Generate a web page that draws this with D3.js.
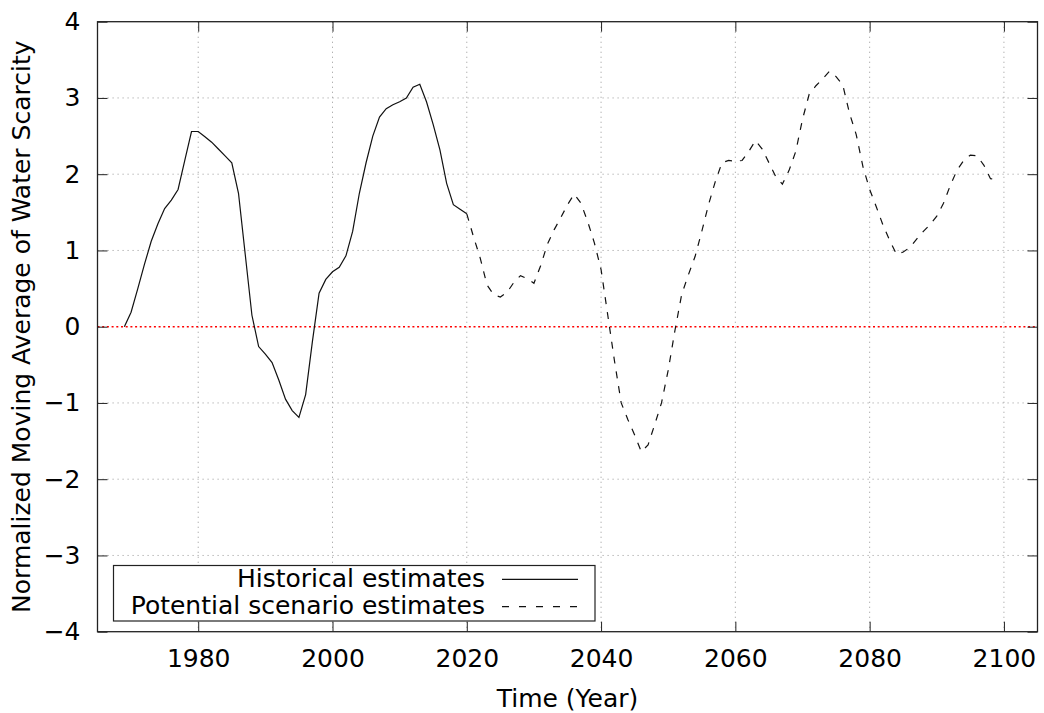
<!DOCTYPE html>
<html>
<head>
<meta charset="utf-8">
<script src="https://cdn.jsdelivr.net/npm/d3@7"></script>
<style>
  body { margin: 0; background: #fff; }
  svg { font-family: "DejaVu Sans", sans-serif; }
</style>
</head>
<body>
<svg width="1044" height="713"></svg>
<script>
// Historical moving average, one value per year from 1969 to 2020
const histStart = 1969;
const histValues = [
    0.00, 0.19, 0.50, 0.82, 1.12, 1.35, 1.55, 1.66, 1.80, 2.18,
    2.56, 2.56, 2.49, 2.42, 2.33, 2.24, 2.15, 1.75, 0.95, 0.15,
    -0.26, -0.36, -0.47, -0.70, -0.95, -1.10, -1.19, -0.89, -0.20, 0.44,
    0.62, 0.72, 0.78, 0.93, 1.25, 1.75, 2.15, 2.50, 2.75, 2.86,
    2.91, 2.95, 3.00, 3.14, 3.18, 2.95, 2.65, 2.32, 1.88, 1.60,
    1.54, 1.48
];

// Scenario estimates, one value per year from 2020 to 2099
const scenStart = 2020;
const scenValues = [
    1.48, 1.18, 0.90, 0.55, 0.42, 0.39, 0.45, 0.58, 0.67, 0.63,
    0.57, 0.80, 1.08, 1.27, 1.43, 1.60, 1.74, 1.62, 1.38, 1.10,
    0.75, 0.15, -0.45, -1.00, -1.22, -1.42, -1.64, -1.55, -1.28, -1.00,
    -0.57, -0.05, 0.42, 0.68, 0.92, 1.25, 1.60, 1.90, 2.15, 2.18,
    2.17, 2.18, 2.30, 2.44, 2.33, 2.15, 1.97, 1.87, 2.05, 2.30,
    2.72, 3.05, 3.16, 3.25, 3.35, 3.28, 3.17, 2.80, 2.52, 2.10,
    1.80, 1.57, 1.33, 1.13, 0.95, 0.98, 1.04, 1.15, 1.25, 1.34,
    1.45, 1.62, 1.85, 2.05, 2.18, 2.25, 2.24, 2.12, 1.94, 1.93
];

const xTicks = [1980, 2000, 2020, 2040, 2060, 2080, 2100];
const yTicks = [-4, -3, -2, -1, 0, 1, 2, 3, 4];
const legendLabels = ["Historical estimates", "Potential scenario estimates"];

const historical = histValues.map((v, i) => ({ year: histStart + i, value: v }));
const scenario = scenValues.map((v, i) => ({ year: scenStart + i, value: v }));

const fontSize = "25px";

// Plot area
const margin = { top: 21.7, right: 6.5, bottom: 81.3, left: 97.5 },
    width = 1044 - margin.left - margin.right,
    height = 713 - margin.top - margin.bottom;

const svg = d3.select("svg")
    .append("g")
    .attr("transform", `translate(${margin.left},${margin.top})`);

const x = d3.scaleLinear()
    .domain([1965, 2105])
    .range([0, width]);

const y = d3.scaleLinear()
    .domain([-4, 4])
    .range([height, 0]);

// Dotted grid
svg.append("g")
    .selectAll("line")
    .data(xTicks)
    .join("line")
    .attr("x1", d => x(d)).attr("x2", d => x(d))
    .attr("y1", 0).attr("y2", height)
    .attr("stroke", "#a8a8a8")
    .attr("stroke-width", 1)
    .attr("stroke-dasharray", "1.2,3.8");

svg.append("g")
    .selectAll("line")
    .data(yTicks.filter(d => d !== 0 && d !== 4 && d !== -4))
    .join("line")
    .attr("x1", 0).attr("x2", width)
    .attr("y1", d => y(d)).attr("y2", d => y(d))
    .attr("stroke", "#a8a8a8")
    .attr("stroke-width", 1)
    .attr("stroke-dasharray", "1.2,3.8");

// Red zero line
svg.append("line")
    .attr("x1", 0).attr("x2", width)
    .attr("y1", y(0)).attr("y2", y(0))
    .attr("stroke", "#ff0000")
    .attr("stroke-width", 1.5)
    .attr("stroke-dasharray", "2,2.7");

// Axes with inward ticks, mirrored on top and right
svg.append("g")
    .attr("transform", `translate(0,${height})`)
    .call(d3.axisBottom(x).tickValues(xTicks).tickFormat(d3.format("d"))
        .tickSizeInner(-10).tickSizeOuter(0).tickPadding(17.5));

svg.append("g")
    .call(d3.axisLeft(y).tickValues(yTicks)
        .tickSizeInner(-10).tickSizeOuter(0).tickPadding(17));

svg.append("g")
    .call(d3.axisTop(x).tickValues(xTicks).tickFormat("")
        .tickSizeInner(-10).tickSizeOuter(0));

svg.append("g")
    .attr("transform", `translate(${width},0)`)
    .call(d3.axisRight(y).tickValues(yTicks).tickFormat("")
        .tickSizeInner(-10).tickSizeOuter(0));

svg.selectAll(".domain").remove();
svg.selectAll(".tick line").attr("stroke", "#222").attr("stroke-width", 1);
svg.selectAll(".tick text")
    .style("font-family", "DejaVu Sans")
    .style("font-size", fontSize)
    .attr("fill", "#000");

// Border
svg.append("rect")
    .attr("width", width)
    .attr("height", height)
    .attr("fill", "none")
    .attr("stroke", "#222")
    .attr("stroke-width", 1.3);

// Lines
const line = d3.line()
    .x(d => x(d.year))
    .y(d => y(d.value));

svg.append("path")
    .datum(historical)
    .attr("fill", "none")
    .attr("stroke", "#111")
    .attr("stroke-width", 1.2)
    .attr("d", line);

svg.append("path")
    .datum(scenario)
    .attr("fill", "none")
    .attr("stroke", "#111")
    .attr("stroke-width", 1.2)
    .attr("stroke-dasharray", "7,8")
    .attr("d", line);

// Legend
const legend = svg.append("g")
    .attr("transform", `translate(${113.5 - margin.left},${565.5 - margin.top})`);

legend.append("rect")
    .attr("width", 481.5)
    .attr("height", 55.5)
    .attr("fill", "#fff")
    .attr("stroke", "#222")
    .attr("stroke-width", 1.2);

legendLabels.forEach((label, i) => {
    legend.append("text")
        .attr("x", 371.5)
        .attr("y", 21.2 + i * 27.3)
        .attr("text-anchor", "end")
        .style("font-size", fontSize)
        .text(label);

    legend.append("line")
        .attr("x1", 388.5).attr("x2", 464.5)
        .attr("y1", 13.8 + i * 27.3).attr("y2", 13.8 + i * 27.3)
        .attr("stroke", "#111")
        .attr("stroke-width", 1.2)
        .attr("stroke-dasharray", i === 0 ? null : "7,10");
});

// Axis titles
svg.append("text")
    .attr("x", width / 2)
    .attr("y", 707 - margin.top)
    .attr("text-anchor", "middle")
    .style("font-size", fontSize)
    .text("Time (Year)");

svg.append("text")
    .attr("transform", "rotate(-90)")
    .attr("x", -height / 2)
    .attr("y", 30 - margin.left)
    .attr("text-anchor", "middle")
    .style("font-size", fontSize)
    .text("Normalized Moving Average of Water Scarcity");
</script>
</body>
</html>
